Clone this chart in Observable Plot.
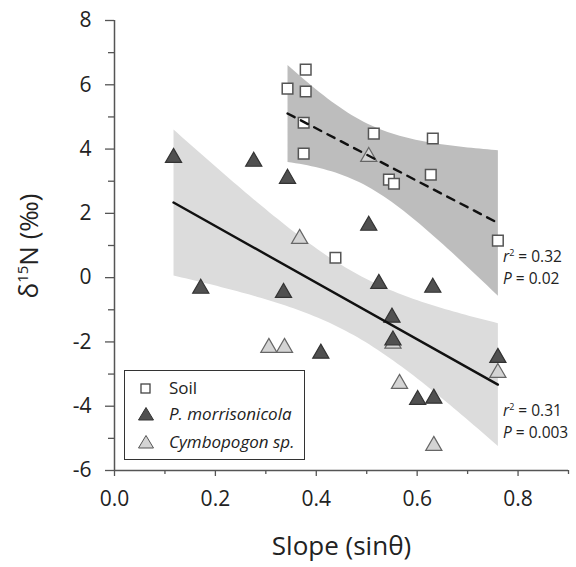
<!DOCTYPE html>
<html>
<head>
<meta charset="utf-8">
<script src="https://cdn.jsdelivr.net/npm/d3@7"></script>
<script src="https://cdn.jsdelivr.net/npm/@observablehq/plot@0.6"></script>
<style>
  html, body { margin: 0; padding: 0; background: #fff; }
  #wrap { position: relative; width: 576px; height: 567px; font-family: "Open Sans", sans-serif; color: #222; }
  #legend { position: absolute; left: 124px; top: 370px; width: 179px; height: 88px; border: 1.5px solid #333; background: #fff; font-size: 17px; }
  .row { position: absolute; left: 0; height: 26px; line-height: 26px; white-space: nowrap; }
  .row svg { position: absolute; left: 12px; top: 5px; }
  .row span { position: absolute; left: 44px; }
  .ann { position: absolute; font-size: 15.5px; line-height: 22px; white-space: nowrap; color: #222; }
  #ylab { position: absolute; left: 28px; top: 246px; transform: translate(-50%, -50%) rotate(-90deg); font-size: 26px; white-space: nowrap; color: #222; }
  #ylab sup { font-size: 15px; vertical-align: 10px; line-height: 0; }
</style>
</head>
<body>
<div id="wrap"></div>
<script>
// ---- data ----
const soilSlope = [0.343, 0.379, 0.379, 0.375, 0.375, 0.438, 0.514, 0.544, 0.554, 0.627, 0.631, 0.760];
const soilD15N  = [5.88, 6.47, 5.79, 4.82, 3.86, 0.62, 4.48, 3.05, 2.92, 3.20, 4.33, 1.15];

const morrSlope = [0.117, 0.171, 0.276, 0.335, 0.343, 0.409, 0.504, 0.524, 0.550, 0.552, 0.601, 0.631, 0.633, 0.760];
const morrD15N  = [3.73, -0.34, 3.61, -0.47, 3.08, -2.36, 1.62, -0.19, -1.24, -1.95, -3.80, -0.31, -3.76, -2.49];

const cymbSlope = [0.306, 0.337, 0.367, 0.504, 0.552, 0.565, 0.633, 0.760];
const cymbD15N  = [-2.18, -2.18, 1.21, 3.76, -2.05, -3.30, -5.23, -2.96];

const xMajorTicks = [0, 0.2, 0.4, 0.6, 0.8];
const xMinorTicks = [0.1, 0.3, 0.5, 0.7, 0.9];
const yMajorTicks = [-6, -4, -2, 0, 2, 4, 6, 8];
const yMinorTicks = [-5, -3, -1, 1, 3, 5, 7];

const seriesNames = ["Soil", "P. morrisonicola", "Cymbopogon sp."];
const soilStats = ["0.32", "0.02"];
const plantStats = ["0.31", "0.003"];

// ---- tables ----
const soil = soilSlope.map((x, i) => ({x, y: soilD15N[i]}));
const morr = morrSlope.map((x, i) => ({x, y: morrD15N[i]}));
const cymb = cymbSlope.map((x, i) => ({x, y: cymbD15N[i]}));
const plants = morr.concat(cymb);

const axisColor = "#555";
const textColor = "#222";

const chart = Plot.plot({
  width: 576,
  height: 567,
  marginLeft: 114,
  marginRight: 8,
  marginTop: 20,
  marginBottom: 97,
  x: {domain: [0, 0.9]},
  y: {domain: [-6, 8]},
  style: {fontFamily: "Open Sans, sans-serif", background: "white", color: textColor},
  marks: [
    // confidence bands
    Plot.linearRegressionY(plants, {x: "x", y: "y", fill: "#dcdcdc", fillOpacity: 1, stroke: "none"}),
    Plot.linearRegressionY(soil, {x: "x", y: "y", fill: "#bdbdbd", fillOpacity: 1, stroke: "none"}),
    // points
    Plot.dot(soil, {x: "x", y: "y", symbol: "square", r: 6, fill: "white", stroke: "#555", strokeWidth: 1.5}),
    Plot.dot(cymb, {x: "x", y: "y", symbol: "triangle", r: 6, fill: "#d4d4d4", stroke: "#666", strokeWidth: 1.2}),
    Plot.dot(morr, {x: "x", y: "y", symbol: "triangle", r: 6, fill: "#505050", stroke: "#333", strokeWidth: 1.2}),
    // regression lines
    Plot.linearRegressionY(plants, {x: "x", y: "y", ci: 0, stroke: "#111", strokeWidth: 2.4}),
    Plot.linearRegressionY(soil, {x: "x", y: "y", ci: 0, stroke: "#111", strokeWidth: 2.4, strokeDasharray: "8,7"}),
    // axes
    Plot.axisY({ticks: yMajorTicks, tickSize: 9, tickPadding: 14, fontSize: 21, stroke: axisColor, strokeWidth: 1.3, label: null, tickFormat: d => String(d)}),
    Plot.axisY({ticks: yMinorTicks, tickSize: 6, stroke: axisColor, strokeWidth: 1.3, label: null, tickFormat: () => ""}),
    Plot.axisX({ticks: xMajorTicks, tickSize: 6, tickPadding: 15, fontSize: 21, stroke: axisColor, strokeWidth: 1.3, tickFormat: d => d.toFixed(1),
      label: "Slope (sinθ)", labelAnchor: "center", labelArrow: "none", labelOffset: 84}),
    Plot.axisX({ticks: xMinorTicks, tickSize: 4, stroke: axisColor, strokeWidth: 1.3, label: null, tickFormat: () => ""}),
    Plot.ruleX([0], {stroke: axisColor, strokeWidth: 1.5}),
    Plot.ruleY([-6], {stroke: axisColor, strokeWidth: 1.5})
  ]
});

// enlarge the x-axis title font
chart.querySelectorAll("g[aria-label='x-axis label'] text").forEach(t => t.setAttribute("font-size", "26"));

const wrap = document.getElementById("wrap");
wrap.appendChild(chart);

// y-axis title
const ylab = document.createElement("div");
ylab.id = "ylab";
ylab.innerHTML = "δ<sup>15</sup>N (‰)";
wrap.appendChild(ylab);

// legend
const legend = document.createElement("div");
legend.id = "legend";
const symbols = [
  '<svg width="16" height="16"><rect x="4" y="4" width="9" height="9" fill="white" stroke="#444" stroke-width="1.3"/></svg>',
  '<svg width="18" height="16"><polygon points="9,1.5 16.5,14 1.5,14" fill="#505050" stroke="#333" stroke-width="1"/></svg>',
  '<svg width="18" height="16"><polygon points="9,1.5 16.5,14 1.5,14" fill="#d4d4d4" stroke="#555" stroke-width="1"/></svg>'
];
const tops = [4, 30, 58];
seriesNames.forEach((name, i) => {
  const row = document.createElement("div");
  row.className = "row";
  row.style.top = tops[i] + "px";
  row.innerHTML = symbols[i] + `<span style="font-style:${i === 0 ? "normal" : "italic"}">${name}</span>`;
  legend.appendChild(row);
});
wrap.appendChild(legend);

// statistics annotations
function ann(stats, left, top) {
  const d = document.createElement("div");
  d.className = "ann";
  d.style.left = left + "px";
  d.style.top = top + "px";
  d.innerHTML = `<i>r</i><sup style="font-size:9px;vertical-align:6px;line-height:0">2</sup> = ${stats[0]}<br><i>P</i> = ${stats[1]}`;
  wrap.appendChild(d);
}
ann(soilStats, 503, 245);
ann(plantStats, 503, 399);
</script>
</body>
</html>
